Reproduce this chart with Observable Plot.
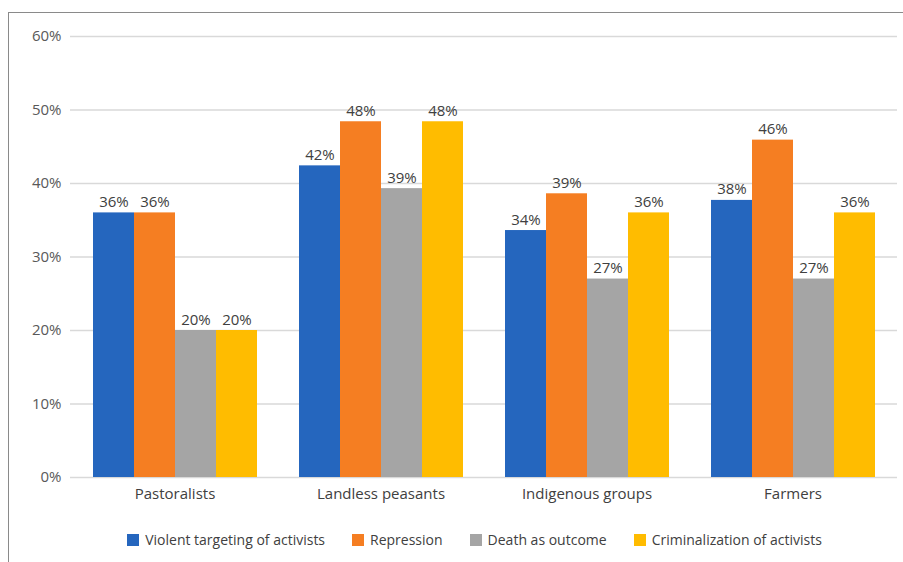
<!DOCTYPE html>
<html>
<head>
<meta charset="utf-8">
<script src="https://cdn.jsdelivr.net/npm/d3@7"></script>
<script src="https://cdn.jsdelivr.net/npm/@observablehq/plot@0.6"></script>
<style>
  html, body { margin: 0; padding: 0; background: #fff; width: 903px; height: 562px; overflow: hidden; }
  #frame { position: absolute; left: 8px; top: 12px; width: 1000px; height: 600px;
           border-top: 1px solid #8a8a8a; border-left: 1px solid #8a8a8a; box-sizing: border-box; }
  .layer { position: absolute; left: 0; top: 0; }
  #legend { position: absolute; left: 0; top: 530px; width: 903px; display: flex; justify-content: center;
            gap: 27px; font-family: "Open Sans", sans-serif; font-size: 14px; color: #404040; padding-left: 46px; box-sizing: border-box; }
  .item { display: flex; align-items: center; gap: 6px; }
  .sw { width: 12px; height: 12px; display: inline-block; }
</style>
</head>
<body>
<div id="frame"></div>
<div id="grid" class="layer"></div>
<div id="chart" class="layer"></div>
<div id="legend"></div>
<script>
const categories = ["Pastoralists", "Landless peasants", "Indigenous groups", "Farmers"];
const series = ["Violent targeting of activists", "Repression", "Death as outcome", "Criminalization of activists"];
const colors = ["#2566be", "#f57e22", "#a5a5a5", "#ffbc00"];
// values per category, in series order
const pastoralists = [0.36, 0.36, 0.20, 0.20];
const landless = [0.424, 0.484, 0.393, 0.484];
const indigenous = [0.336, 0.386, 0.27, 0.36];
const farmers = [0.377, 0.459, 0.27, 0.36];
const yTicks = [0, 0.1, 0.2, 0.3, 0.4, 0.5, 0.6];

const rows = [pastoralists, landless, indigenous, farmers];
const data = [];
categories.forEach((c, i) => series.forEach((s, j) => data.push({cat: c, series: s, value: rows[i][j]})));

const fmt = d3.format(".0%");
const font = '"Open Sans", sans-serif';
const common = {
  width: 903,
  height: 510,
  marginTop: 36,
  marginBottom: 33,
  marginLeft: 70,
  marginRight: 6,
  style: {fontFamily: font, fontSize: "14px", color: "#595959", background: "transparent"},
  y: {domain: [0, 0.6], label: null, axis: null}
};

const grid = Plot.plot({
  ...common,
  marks: [
    Plot.gridY(yTicks, {stroke: "#d9d9d9", strokeOpacity: 1, strokeWidth: 1.3}),
    Plot.axisY(yTicks, {tickFormat: fmt, tickSize: 0, tickPadding: 9, fontSize: 15, fill: "#595959", label: null})
  ]
});
document.getElementById("grid").appendChild(grid);

const chart = Plot.plot({
  ...common,
  fx: {domain: categories, paddingInner: 0.2, paddingOuter: 0.1, label: null, axis: null},
  x: {domain: series, padding: 0, axis: null},
  color: {domain: series, range: colors},
  marks: [
    Plot.axisFx({anchor: "bottom", tickSize: 0, tickPadding: 11, fontSize: 15, fill: "#404040", label: null}),
    Plot.barY(data, {fx: "cat", x: "series", y: "value", fill: "series"}),
    Plot.text(data, {fx: "cat", x: "series", y: "value", text: d => fmt(d.value), lineAnchor: "bottom", dy: -6, fontSize: 15, fill: "#404040"})
  ]
});
document.getElementById("chart").appendChild(chart);

const legend = document.getElementById("legend");
series.forEach((s, i) => {
  const it = document.createElement("div");
  it.className = "item";
  const sw = document.createElement("span");
  sw.className = "sw";
  sw.style.background = colors[i];
  const t = document.createElement("span");
  t.textContent = s;
  it.appendChild(sw); it.appendChild(t);
  legend.appendChild(it);
});
</script>
</body>
</html>
